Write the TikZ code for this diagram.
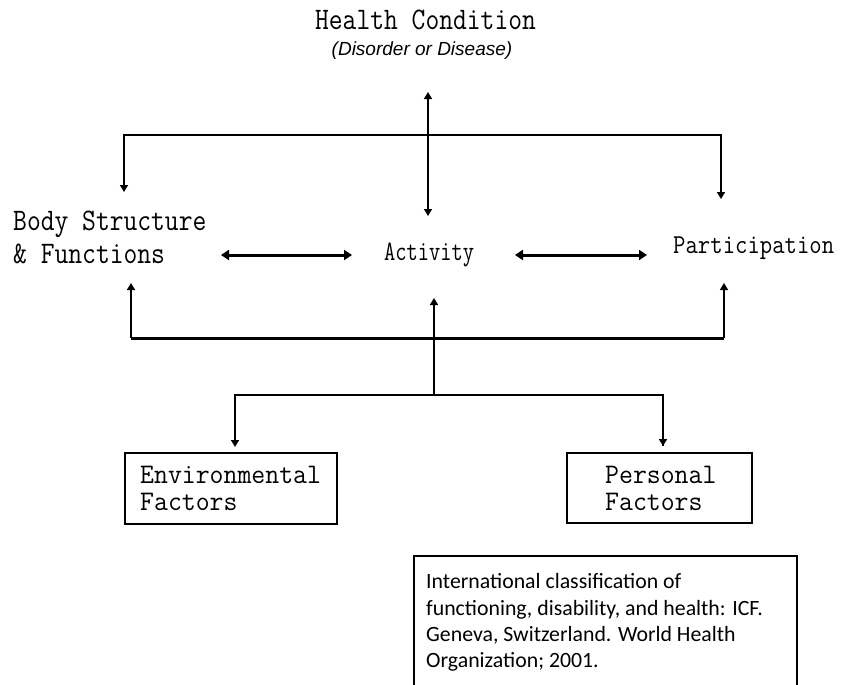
\documentclass[tikz,border=0pt]{standalone}
\usepackage{fontspec}
\usepackage{graphicx}
\newfontfamily\citefont{Carlito}
\newfontfamily\lsans{Liberation Sans}
\usetikzlibrary{arrows.meta}
\newcommand{\stx}[3]{\scalebox{#1}[#2]{#3}}
\tikzset{
  lbl/.style={inner sep=0pt, anchor=base west, font=\ttfamily},
  thinline/.style={line width=1.5pt, draw=black},
  thickline/.style={line width=3pt, draw=black},
  tipA/.style={-{Triangle[width=8pt,length=7pt]}},
  tipAA/.style={{Triangle[width=8pt,length=7pt]}-{Triangle[width=8pt,length=7pt]}},
  tipBB/.style={{Triangle[width=10pt,length=8pt]}-{Triangle[width=10pt,length=8pt]}},
  factorbox/.style={draw=black, line width=2pt, minimum width=0pt, inner sep=0pt},
}
\begin{document}
\begin{tikzpicture}[x=1pt, y=-1pt]
\useasboundingbox (0,0) rectangle (843,685);
% texts
\node[inner sep=0pt, anchor=base, font=\ttfamily\fontsize{28}{30}\selectfont] (hc) at (425.5,30) {\stx{0.957}{1.12}{Health Condition}};
\node[inner sep=0pt, anchor=base, font=\lsans\itshape\fontsize{19}{22}\selectfont] (dd) at (422,56) {(Disorder or Disease)};
\node[lbl, font=\ttfamily\fontsize{28}{30}\selectfont] (bs1) at (13,230) {\stx{0.957}{1.12}{Body Structure}};
\node[lbl, font=\ttfamily\fontsize{28}{30}\selectfont] (bs2) at (13,263) {\stx{0.957}{1.12}{\& Functions}};
\node[lbl, font=\ttfamily\fontsize{26}{30}\selectfont] (act) at (384,260) {\stx{0.84}{1.08}{Activity}};
\node[lbl, font=\ttfamily\fontsize{26}{30}\selectfont] (par) at (673,253) {\stx{0.925}{1.05}{Participation}};
% boxes
\draw[factorbox] (125,453) rectangle (337,524);
\node[lbl, font=\ttfamily\fontsize{27}{30}\selectfont] (env1) at (140,483) {\stx{1}{1.05}{Environmental}};
\node[lbl, font=\ttfamily\fontsize{27}{30}\selectfont] (env2) at (140,510) {\stx{1}{1.05}{Factors}};
\draw[factorbox] (567,453) rectangle (752,523);
\node[lbl, font=\ttfamily\fontsize{27}{30}\selectfont] (per1) at (605,483) {\stx{1}{1.05}{Personal}};
\node[lbl, font=\ttfamily\fontsize{27}{30}\selectfont] (per2) at (605,510) {\stx{1}{1.05}{Factors}};
% citation
\draw[line width=1.5pt] (414,700) |- (797,556) -- (797,700);
\begin{scope}[every node/.style={inner sep=0pt, anchor=base west, font=\citefont\fontsize{21.8}{26}\selectfont}]
\node (c1) at (426,588) {International classification of};
\node (c2) at (426,615) {functioning, disability, and health: ICF.};
\node (c3) at (426,641) {Geneva, Switzerland. World Health};
\node (c4) at (426,667) {Organization; 2001.};
\end{scope}
% coordinates
\coordinate (hcTip) at (428,92);
\coordinate (actTop) at (428,216);
\coordinate (jTop) at (428,135);
\coordinate (bsTop) at (124,192);
\coordinate (paTop) at (721,199);
\coordinate (bsBot) at (131,283);
\coordinate (paBot) at (724,283);
\coordinate (jBotL) at (131,338);
\coordinate (jBotR) at (724,338);
\coordinate (actBot) at (434,298);
\coordinate (jLow) at (434,395);
\coordinate (envTop) at (235,447);
\coordinate (perTop) at (663,446);
\coordinate (da1) at (221,255);
\coordinate (da2) at (352,255);
\coordinate (da3) at (515,255);
\coordinate (da4) at (647,255);
% connectors
\draw[thinline, tipAA] (hcTip) -- (actTop);
\draw[thinline, tipAA] (bsTop) |- (jTop) -| (paTop);
\draw[thickline, tipBB] (da1) -- (da2);
\draw[thickline, tipBB] (da3) -- (da4);
\draw[thinline, tipA] (jBotL) -- (bsBot);
\draw[thinline, tipA] (jBotR) -- (paBot);
\draw[thickline] (jBotL) -- (jBotR);
\draw[thinline, tipA] (jLow) -- (actBot);
\draw[thinline, tipA] (jLow) -| (envTop);
\draw[thinline] (jLow) -| (perTop);
\draw[line width=2.5pt, tipA] (663,400) -- (perTop);
\end{tikzpicture}
\end{document}
